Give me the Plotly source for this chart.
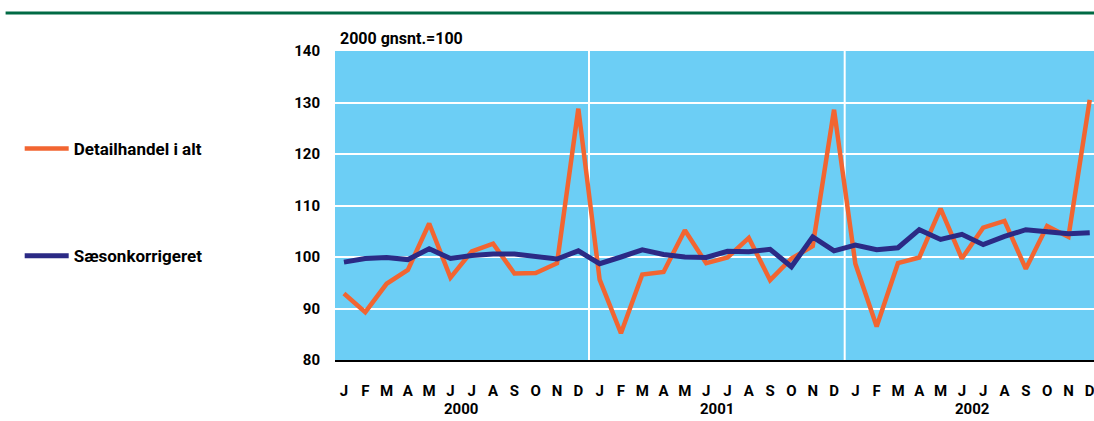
import plotly.graph_objects as go

# Månedsdata 2000-2002, indeks 2000 gnsnt.=100
maaneder = ["J", "F", "M", "A", "M", "J", "J", "A", "S", "O", "N", "D"] * 3
aar = ["2000", "2001", "2002"]

detailhandel = [
    92.9, 89.3, 94.8, 97.5, 106.5, 96.0, 101.1, 102.6, 96.8, 96.9, 98.8, 128.8,
    95.6, 85.2, 96.6, 97.1, 105.2, 98.8, 99.9, 103.7, 95.5, 99.7, 102.1, 128.6,
    98.7, 86.5, 98.8, 99.9, 109.4, 99.7, 105.7, 107.0, 97.7, 106.0, 103.9, 130.5,
]
saesonkorr = [
    99.0, 99.7, 99.9, 99.5, 101.6, 99.7, 100.3, 100.6, 100.6, 100.1, 99.6, 101.2,
    98.7, 100.0, 101.4, 100.5, 100.0, 99.9, 101.1, 101.0, 101.5, 98.1, 103.9, 101.2,
    102.3, 101.4, 101.8, 105.3, 103.4, 104.4, 102.4, 104.0, 105.3, 104.9, 104.5, 104.7,
]

idx = list(range(len(maaneder)))
FONT = "Roboto"


def txt(size):
    return dict(family=FONT, size=size, color="black", weight="bold")


fig = go.Figure()

fig.add_trace(go.Scatter(
    x=idx, y=detailhandel, mode="lines", name="Detailhandel i alt",
    legendgroup="a", line=dict(color="#F26531", width=4.5),
))
fig.add_trace(go.Scatter(
    x=idx, y=saesonkorr, mode="lines", name="Sæsonkorrigeret",
    legendgroup="b", line=dict(color="#2B2A85", width=5),
))

# skillelinjer mellem årene
for xv in [11.5, 23.5]:
    fig.add_vline(x=xv, line=dict(color="white", width=2), layer="below")

# årstal under månederne
for i, a in enumerate(aar):
    fig.add_annotation(
        x=i * 12 + 5.5, y=0, xref="x", yref="paper", text=a,
        showarrow=False, yshift=-49, yanchor="middle", font=txt(15),
    )

# enhed over y-aksen
fig.add_annotation(
    x=0, y=1, xref="paper", yref="paper", text="2000 gnsnt.=100",
    showarrow=False, xanchor="left", yanchor="bottom", xshift=3, yshift=1,
    font=txt(16),
)

# grøn streg øverst
fig.add_shape(
    type="line", xref="paper", yref="paper",
    x0=-0.434, x1=1.0, y0=1.123, y1=1.123,
    line=dict(color="#006A44", width=3),
)

fig.update_layout(
    width=1094, height=421,
    margin=dict(l=335, r=0, t=51, b=61),
    paper_bgcolor="white",
    plot_bgcolor="#6CCEF5",
    font=txt(15),
    showlegend=True,
    legend=dict(
        xref="container", yref="container",
        x=0.018, y=1 - 131 / 421, xanchor="left", yanchor="top",
        tracegroupgap=82, bgcolor="rgba(0,0,0,0)",
        font=txt(17), itemwidth=44,
    ),
    xaxis=dict(
        range=[-0.42, 35.2],
        tickvals=idx, ticktext=maaneder,
        showgrid=False, zeroline=False,
        showline=True, linecolor="black", linewidth=2,
        ticks="", ticklabelstandoff=16,
        ticklabeloverflow="allow",
        tickfont=txt(15),
    ),
    yaxis=dict(
        range=[80, 140], dtick=10,
        showgrid=True, gridcolor="white", gridwidth=2,
        zeroline=False, showline=False, ticks="",
        ticklabelstandoff=14,
        tickfont=txt(15),
    ),
)

fig.write_html(
    "out.html",
    config={"displayModeBar": False},
    post_script="document.body.style.margin='0';",
)
